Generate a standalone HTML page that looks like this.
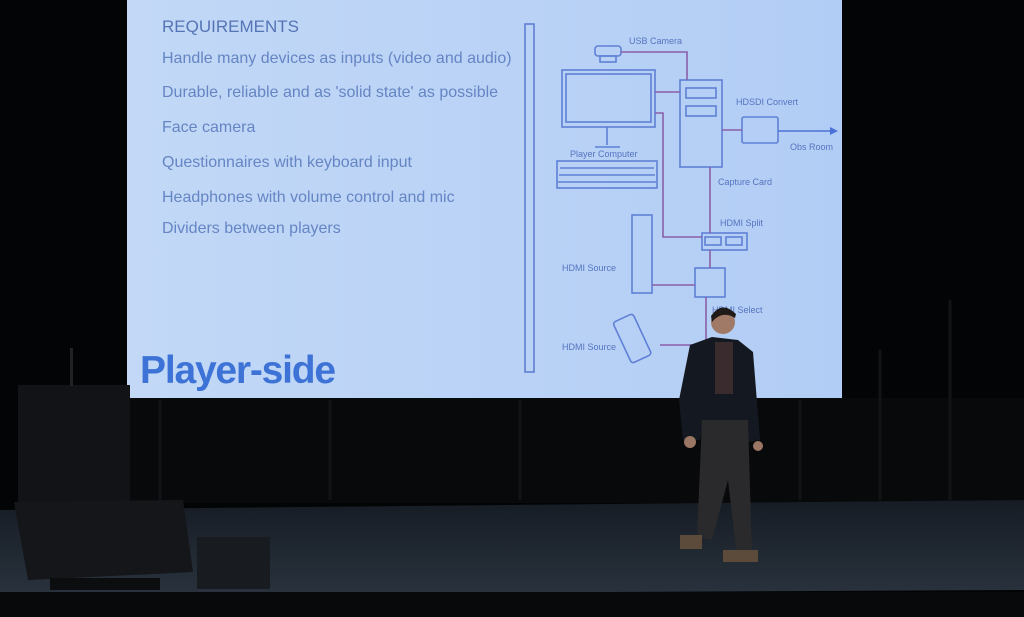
<!DOCTYPE html>
<html><head><style>
html,body{margin:0;padding:0;background:#000;width:1024px;height:617px;overflow:hidden}
svg{display:block}
text{font-family:"Liberation Sans",sans-serif}
</style></head><body>
<svg width="1024" height="617" viewBox="0 0 1024 617">
<defs>
<linearGradient id="fl" x1="0" y1="0" x2="0" y2="1"><stop offset="0" stop-color="#161c24"/><stop offset="1" stop-color="#29323d"/></linearGradient>
<linearGradient id="sc" x1="0" y1="0" x2="1" y2="0"><stop offset="0" stop-color="#c2d8f6"/><stop offset="1" stop-color="#b2cdf5"/></linearGradient>
</defs>
<rect width="1024" height="617" fill="#030405"/>
<rect x="127" y="398" width="897" height="105" fill="#08090b"/>
<g stroke="#111316" stroke-width="3">
<line x1="160" y1="400" x2="160" y2="500"/><line x1="330" y1="400" x2="330" y2="500"/><line x1="520" y1="400" x2="520" y2="500"/><line x1="800" y1="400" x2="800" y2="500"/><line x1="880" y1="350" x2="880" y2="500"/><line x1="950" y1="300" x2="950" y2="500"/>
</g>
<polygon points="0,510 1024,500 1024,590 0,595" fill="url(#fl)"/>
<rect x="0" y="592" width="1024" height="25" fill="#07090b"/>
<rect x="127" y="0" width="715" height="398" fill="url(#sc)"/>
<g fill="#6585c4" font-size="16">
<text x="162" y="32" font-size="17" fill="#5574b5">REQUIREMENTS</text>
<text x="162" y="63">Handle many devices as inputs (video and audio)</text>
<text x="162" y="97">Durable, reliable and as 'solid state' as possible</text>
<text x="162" y="132">Face camera</text>
<text x="162" y="167">Questionnaires with keyboard input</text>
<text x="162" y="202">Headphones with volume control and mic</text>
<text x="162" y="233">Dividers between players</text>
</g>
<text x="140" y="383" font-size="39" font-weight="bold" fill="#3d72d6" letter-spacing="-1.2">Player-side</text>
<rect x="525" y="24" width="9" height="348" fill="none" stroke="#5a7ad0" stroke-width="1.5"/>
<g fill="none" stroke="#5f80d6" stroke-width="1.6">
<rect x="595" y="46" width="26" height="10" rx="3"/><rect x="600" y="56" width="16" height="6"/>
<rect x="562" y="70" width="93" height="57"/><rect x="566" y="74" width="85" height="48"/>
<path d="M607 127 V145 M595 147 H620"/>
<rect x="557" y="161" width="100" height="27"/>
<path d="M560 168H654M559 175H655M558 182H656"/>
<rect x="680" y="80" width="42" height="87"/><rect x="686" y="88" width="30" height="10"/><rect x="686" y="106" width="30" height="10"/>
<rect x="742" y="117" width="36" height="26" rx="2"/>
<rect x="702" y="233" width="45" height="17"/><rect x="705" y="237" width="16" height="8"/><rect x="726" y="237" width="16" height="8"/>
<rect x="695" y="268" width="30" height="29"/>
<rect x="632" y="215" width="20" height="78"/>
<rect x="621" y="316" width="22" height="45" rx="3" transform="rotate(-25 632 338)"/>
</g>
<g fill="none" stroke="#8a5fa8" stroke-width="1.6">
<path d="M621 52 H687 V80"/><path d="M655 92 H680"/><path d="M655 113 H663 V237 H702"/>
<path d="M710 167 V233"/><path d="M710 250 V268"/><path d="M652 285 H695"/><path d="M706 297 V345 H660"/><path d="M722 130 H742"/>
</g>
<path d="M778 131 H834" stroke="#4a72d8" stroke-width="1.6"/>
<polygon points="838,131 830,127 830,135" fill="#4a72d8"/>
<g fill="#5574c0" font-size="9">
<text x="629" y="44">USB Camera</text><text x="736" y="105">HDSDI Convert</text><text x="790" y="150">Obs Room</text>
<text x="570" y="157">Player Computer</text><text x="718" y="185">Capture Card</text><text x="720" y="226">HDMI Split</text>
<text x="562" y="271">HDMI Source</text><text x="712" y="313">HDMI Select</text><text x="562" y="350">HDMI Source</text>
</g>
<rect x="18" y="385" width="112" height="117" fill="#111316"/>
<rect x="70" y="348" width="3" height="38" fill="#222"/>
<polygon points="14,502 183,500 193,572 28,580" fill="#141619"/>
<rect x="50" y="578" width="110" height="12" fill="#0c0d0f"/>
<rect x="197" y="537" width="73" height="52" fill="#181b1f"/>
<circle cx="723" cy="322" r="12" fill="#a07a66"/>
<path d="M711 316 Q722 300 736 314 L735 318 Q722 310 712 322Z" fill="#1e1a18"/>
<path d="M690 345 L712 337 L738 340 L753 352 L760 440 L748 442 L746 420 L704 420 L700 440 L683 440 L679 400Z" fill="#141921"/>
<rect x="715" y="342" width="18" height="52" fill="#3a2c2e"/>
<path d="M702 420 L748 420 L752 555 L737 557 L728 480 L712 540 L697 537 Z" fill="#2a2a2c"/>
<rect x="680" y="535" width="22" height="14" fill="#5c4a3a"/>
<rect x="723" y="550" width="35" height="12" fill="#5c4a3a"/>
<circle cx="690" cy="442" r="6" fill="#9a7664"/><circle cx="758" cy="446" r="5" fill="#9a7664"/>
</svg>
</body></html>
